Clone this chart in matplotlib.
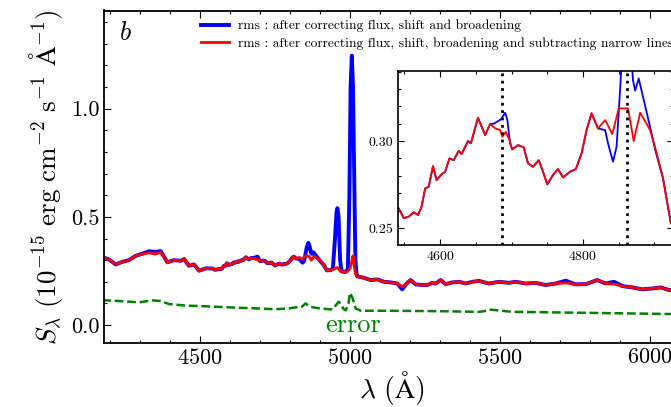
import numpy as np
import matplotlib
matplotlib.use("Agg")
import matplotlib.pyplot as plt
from matplotlib.ticker import MultipleLocator, FormatStrFormatter

plt.rcParams['font.family'] = 'serif'
plt.rcParams['font.serif'] = ['cmr10']
plt.rcParams['mathtext.fontset'] = 'cm'
plt.rcParams['axes.formatter.use_mathtext'] = True

# rms spectrum (red: narrow lines subtracted)
wave_red = [4174, 4197, 4219, 4241, 4263, 4286, 4308, 4330, 4352, 4369, 4391, 4413, 4436, 4447,
            4463, 4480, 4497, 4519, 4542, 4549, 4556, 4563, 4569, 4574, 4579, 4584, 4590, 4595,
            4602, 4607, 4613, 4619, 4626, 4630, 4639, 4643, 4653, 4663, 4670, 4677, 4684, 4687,
            4692, 4697, 4701, 4709, 4717, 4723, 4730, 4738, 4744, 4750, 4758, 4765, 4772, 4782,
            4790, 4798, 4805, 4812, 4821, 4831, 4841, 4850, 4859, 4863, 4871, 4880, 4894, 4903,
            4912, 4923, 4936, 4946, 4958, 4967, 4974, 4991, 5000, 5006, 5010, 5014, 5018, 5024,
            5047, 5069, 5091, 5113, 5136, 5158, 5174, 5191, 5202, 5219, 5241, 5258, 5274, 5286,
            5302, 5319, 5341, 5363, 5386, 5408, 5430, 5463, 5497, 5530, 5552, 5586, 5619, 5652,
            5686, 5719, 5752, 5786, 5824, 5852, 5880, 5908, 5941, 5974, 6008, 6036, 6063, 6090]
flux_red = [0.315, 0.303, 0.280, 0.292, 0.300, 0.320, 0.328, 0.334, 0.328, 0.338, 0.288, 0.300, 0.297, 0.305,
            0.274, 0.280, 0.251, 0.262, 0.2613, 0.2556, 0.2565, 0.2590, 0.2575, 0.2622, 0.2728, 0.2737, 0.2856, 0.2776,
            0.2809, 0.2824, 0.2900, 0.2890, 0.2944, 0.2925, 0.3000, 0.2987, 0.3134, 0.3034, 0.3098, 0.3073, 0.3063, 0.3025,
            0.3053, 0.3006, 0.2952, 0.2977, 0.2964, 0.2872, 0.2852, 0.2890, 0.2824, 0.2751, 0.2805, 0.2839, 0.2791, 0.2824,
            0.2839, 0.2929, 0.3063, 0.3160, 0.3073, 0.3121, 0.3040, 0.3188, 0.3188, 0.3188, 0.3000, 0.3163, 0.3063, 0.2933,
            0.2786, 0.2527, 0.254, 0.258, 0.266, 0.250, 0.246, 0.246, 0.262, 0.295, 0.320, 0.275, 0.238, 0.225,
            0.218, 0.208, 0.211, 0.200, 0.197, 0.192, 0.177, 0.195, 0.208, 0.188, 0.185, 0.185, 0.195, 0.192,
            0.208, 0.189, 0.197, 0.200, 0.192, 0.200, 0.204, 0.192, 0.200, 0.195, 0.200, 0.192, 0.195, 0.185,
            0.192, 0.195, 0.188, 0.189, 0.208, 0.192, 0.189, 0.180, 0.174, 0.165, 0.169, 0.174, 0.162, 0.165]

# rms spectrum (blue: flux, shift and broadening corrected only)
wave_blue = [4174, 4197, 4219, 4241, 4263, 4286, 4308, 4330, 4352, 4369, 4391, 4413, 4436, 4447,
             4463, 4480, 4497, 4519, 4542, 4549, 4556, 4563, 4569, 4574, 4579, 4584, 4590, 4595,
             4602, 4607, 4613, 4619, 4626, 4630, 4639, 4643, 4653, 4663, 4670, 4675, 4685, 4691,
             4694, 4698, 4701, 4709, 4717, 4723, 4730, 4738, 4744, 4750, 4758, 4765, 4772, 4782,
             4790, 4798, 4805, 4812, 4821, 4831, 4835, 4842, 4847, 4852, 4856, 4861, 4866, 4870,
             4873, 4878, 4884, 4894, 4901, 4912, 4923, 4936, 4943, 4950, 4955, 4958, 4962, 4967,
             4972, 4985, 4993, 4998, 5002, 5006, 5010, 5014, 5018, 5022, 5024,
             5047, 5069, 5091, 5113, 5136, 5158, 5174, 5191, 5202, 5219, 5241, 5258, 5274, 5286,
             5302, 5319, 5341, 5363, 5386, 5408, 5430, 5463, 5497, 5530, 5552, 5586, 5619, 5652,
             5686, 5719, 5752, 5786, 5824, 5852, 5880, 5908, 5941, 5974, 6008, 6036, 6063, 6090]
flux_blue = [0.315, 0.303, 0.280, 0.292, 0.300, 0.320, 0.330, 0.341, 0.338, 0.342, 0.290, 0.300, 0.297, 0.305,
             0.274, 0.280, 0.251, 0.262, 0.2613, 0.2556, 0.2565, 0.2590, 0.2575, 0.2622, 0.2728, 0.2737, 0.2856, 0.2776,
             0.2809, 0.2824, 0.2900, 0.2890, 0.2944, 0.2925, 0.3000, 0.2987, 0.3134, 0.3034, 0.3098, 0.3100, 0.3125, 0.3163,
             0.3125, 0.2985, 0.2952, 0.2977, 0.2964, 0.2872, 0.2852, 0.2890, 0.2824, 0.2751, 0.2805, 0.2839, 0.2791, 0.2824,
             0.2839, 0.2929, 0.3063, 0.3160, 0.3073, 0.3063, 0.2987, 0.2881, 0.2967, 0.330, 0.360, 0.380, 0.360, 0.335,
             0.329, 0.336, 0.3255, 0.308, 0.295, 0.2786, 0.2527, 0.254, 0.262, 0.400, 0.520, 0.540, 0.500, 0.300,
             0.248, 0.245, 0.260, 0.600, 1.100, 1.245, 1.100, 0.700, 0.300, 0.235, 0.225,
             0.218, 0.208, 0.211, 0.200, 0.197, 0.192, 0.165, 0.195, 0.208, 0.188, 0.185, 0.185, 0.195, 0.192,
             0.208, 0.189, 0.197, 0.200, 0.192, 0.200, 0.204, 0.192, 0.200, 0.195, 0.200, 0.192, 0.195, 0.185,
             0.192, 0.205, 0.188, 0.189, 0.208, 0.192, 0.200, 0.180, 0.174, 0.165, 0.169, 0.174, 0.162, 0.165]

# error spectrum
wave_err = [4174, 4230, 4297, 4341, 4369, 4397, 4452, 4530, 4608, 4686, 4752, 4797, 4819, 4840,
            4852, 4865, 4897, 4941, 4955, 4962, 4969, 4978, 4986, 4995, 5000, 5007, 5019, 5036,
            5130, 5296, 5430, 5447, 5463, 5541, 5763, 6063, 6090]
flux_err = [0.115, 0.111, 0.105, 0.114, 0.111, 0.097, 0.090, 0.086, 0.081, 0.077, 0.073, 0.077, 0.082, 0.085,
            0.100, 0.085, 0.077, 0.072, 0.095, 0.108, 0.100, 0.075, 0.068, 0.100, 0.149, 0.130, 0.077, 0.066,
            0.066, 0.064, 0.061, 0.064, 0.072, 0.061, 0.057, 0.051, 0.051]

# He II 4686 and H-beta
line_marks = [4686, 4861]

lab_blue = 'rms : after correcting flux, shift and broadening'
lab_red = 'rms : after correcting flux, shift, broadening and subtracting narrow lines'

fig = plt.figure(figsize=(6.71, 4.07), dpi=100)
ax = fig.add_axes([104/671, 64/407, 576/671, 332.5/407])

ax.plot(wave_blue, flux_blue, color='blue', lw=2.8, label=lab_blue)
ax.plot(wave_red, flux_red, color='red', lw=2.0, label=lab_red)
ax.plot(wave_err, flux_err, color='green', lw=1.8, ls='--', dashes=(3.5, 1.5))
ax.text(5012, -0.03, 'error', color='green', fontsize=19, ha='center', va='baseline')
ax.text(4253, 1.35, r'$b$', fontsize=19, ha='center', va='center')

ax.set_xlim(4180, 6100)
ax.set_ylim(-0.083, 1.454)
ax.xaxis.set_major_locator(MultipleLocator(500))
ax.xaxis.set_minor_locator(MultipleLocator(100))
ax.yaxis.set_major_locator(MultipleLocator(0.5))
ax.yaxis.set_minor_locator(MultipleLocator(0.1))
ax.yaxis.set_major_formatter(FormatStrFormatter('%.1f'))
ax.tick_params(which='both', direction='in', top=True, right=True, labelsize=16, width=0.8)
ax.tick_params(which='major', length=5)
ax.tick_params(which='minor', length=2.5)
for s in ax.spines.values():
    s.set_linewidth(1.3)
ax.set_xlabel(r'$\lambda\ (\mathrm{Å})$', fontsize=20, labelpad=1)
ax.set_ylabel(r'$S_\lambda\ (10^{-15}\ \mathrm{erg\ cm^{-2}\ s^{-1}\ Å^{-1}})$', fontsize=19.5, labelpad=4)

ax.legend(loc='upper left', bbox_to_anchor=(0.168, 0.972), frameon=False, fontsize=9.7,
          borderpad=0, borderaxespad=0, handlelength=2.1, handletextpad=0.7, labelspacing=0.35)

# inset zoom around He II and H-beta
axin = fig.add_axes([398/671, 162/407, 275/671, 174.3/407])
axin.set_facecolor('white')
axin.plot(wave_blue, flux_blue, color='blue', lw=1.3)
axin.plot(wave_red, flux_red, color='red', lw=1.3)
for w in line_marks:
    axin.axvline(w, color='black', ls=':', lw=2.0, zorder=5)
axin.set_xlim(4541, 4926)
axin.set_ylim(0.2402, 0.3405)
axin.xaxis.set_major_locator(MultipleLocator(200))
axin.xaxis.set_minor_locator(MultipleLocator(50))
axin.yaxis.set_major_locator(MultipleLocator(0.05))
axin.yaxis.set_minor_locator(MultipleLocator(0.01))
axin.yaxis.set_major_formatter(FormatStrFormatter('%.2f'))
axin.tick_params(which='both', direction='in', top=True, right=True, labelsize=10, width=0.8)
axin.tick_params(which='major', length=4)
axin.tick_params(which='minor', length=2.5)
for s in axin.spines.values():
    s.set_linewidth(1.2)

fig.savefig('out.png', dpi=100)
